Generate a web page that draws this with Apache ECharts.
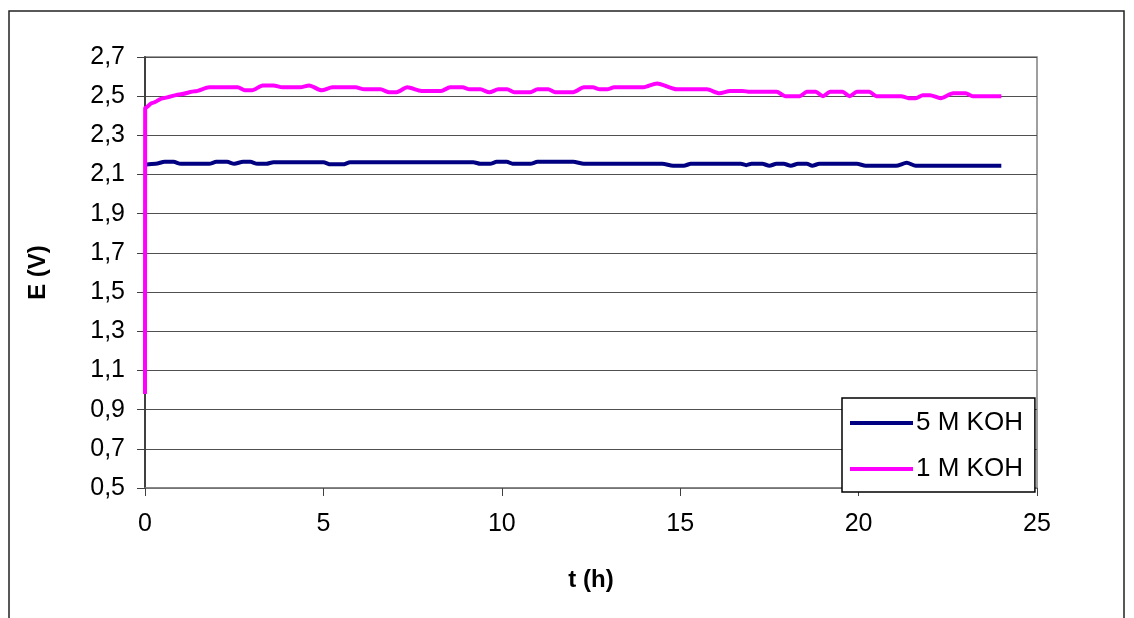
<!DOCTYPE html>
<html>
<head>
<meta charset="utf-8">
<script src="https://cdn.jsdelivr.net/npm/echarts@6/dist/echarts.min.js"></script>
<style>html,body{margin:0;padding:0;background:#fff;}#c{width:1134px;height:618px;}</style>
</head>
<body>
<div id="c"></div>
<script>
// Data
const seriesNames = ['5 M KOH', '1 M KOH'];
const tBlue = [0, 0.3, 0.55, 0.8, 1.0, 1.8, 2.0, 2.3, 2.5, 2.75, 2.95, 3.15, 3.4, 3.6, 5.0, 5.2, 5.55, 5.75, 9.2, 9.4, 9.67, 9.86, 10.14, 10.3, 10.8, 11.0, 12.0, 12.3, 14.5, 14.8, 15.1, 15.3, 16.7, 16.85, 17.0, 17.3, 17.5, 17.7, 17.9, 18.1, 18.3, 18.55, 18.7, 18.9, 19.95, 20.2, 21.05, 21.35, 21.6, 24.0];
const eBlue = [2.15, 2.155, 2.165, 2.165, 2.155, 2.155, 2.165, 2.165, 2.155, 2.165, 2.165, 2.155, 2.155, 2.163, 2.163, 2.152, 2.152, 2.163, 2.163, 2.155, 2.155, 2.165, 2.165, 2.155, 2.155, 2.165, 2.165, 2.155, 2.155, 2.145, 2.145, 2.155, 2.155, 2.148, 2.155, 2.155, 2.145, 2.155, 2.155, 2.145, 2.155, 2.155, 2.145, 2.155, 2.155, 2.145, 2.145, 2.16, 2.145, 2.145];
const tPink = [0, 0.005, 0.2, 0.5, 1.0, 1.4, 1.8, 2.6, 2.8, 3.0, 3.3, 3.6, 3.85, 4.35, 4.6, 4.95, 5.25, 5.9, 6.15, 6.6, 6.85, 7.05, 7.35, 7.75, 8.3, 8.55, 8.9, 9.1, 9.4, 9.65, 9.9, 10.15, 10.35, 10.8, 11.0, 11.3, 11.5, 12.0, 12.3, 12.55, 12.75, 12.95, 13.15, 13.95, 14.35, 14.9, 15.75, 16.1, 16.4, 16.75, 16.95, 17.7, 17.95, 18.35, 18.55, 18.8, 19.0, 19.2, 19.55, 19.75, 19.95, 20.3, 20.5, 21.2, 21.4, 21.6, 21.8, 22.0, 22.3, 22.65, 23.0, 23.2, 24.0];
const ePink = [0.98, 2.44, 2.465, 2.49, 2.51, 2.525, 2.545, 2.545, 2.53, 2.53, 2.555, 2.555, 2.545, 2.545, 2.555, 2.53, 2.545, 2.545, 2.535, 2.535, 2.52, 2.52, 2.545, 2.527, 2.527, 2.545, 2.545, 2.535, 2.535, 2.52, 2.535, 2.535, 2.52, 2.52, 2.535, 2.535, 2.52, 2.52, 2.545, 2.545, 2.535, 2.535, 2.545, 2.545, 2.565, 2.535, 2.535, 2.515, 2.527, 2.527, 2.522, 2.522, 2.50, 2.50, 2.522, 2.522, 2.50, 2.522, 2.522, 2.50, 2.522, 2.522, 2.50, 2.50, 2.49, 2.49, 2.505, 2.505, 2.49, 2.515, 2.515, 2.50, 2.50];

const pair = (t, e) => t.map((v, i) => [v, e[i]]);
const chart = echarts.init(document.getElementById('c'), null, {renderer: 'canvas'});
const font = 'Liberation Sans, Arial, sans-serif';
chart.setOption({
  animation: false,
  backgroundColor: '#fff',
  grid: {left: 145, top: 57, right: 97, bottom: 130, show: true, borderColor: '#808080', borderWidth: 1.5},
  graphic: [{
    type: 'rect', shape: {x: 9, y: 11, width: 1115, height: 640},
    style: {fill: 'none', stroke: '#222', lineWidth: 1.5}, silent: true
  }],
  xAxis: {
    type: 'value', min: 0, max: 25, interval: 5,
    name: 't (h)', nameLocation: 'middle', nameGap: 80,
    nameTextStyle: {fontFamily: font, fontSize: 24, fontWeight: 'bold', color: '#000'},
    axisLine: {show: true, onZero: false, lineStyle: {color: '#808080', width: 1.5}},
    axisTick: {show: true, inside: false, length: 8, lineStyle: {color: '#404040'}},
    axisLabel: {fontFamily: font, fontSize: 25, color: '#000', margin: 24},
    splitLine: {show: false}
  },
  yAxis: {
    type: 'value', min: 0.5, max: 2.7, interval: 0.2,
    name: 'E (V)', nameLocation: 'middle', nameGap: 95, nameRotate: 90,
    nameTextStyle: {fontFamily: font, fontSize: 24, fontWeight: 'bold', color: '#000'},
    axisLine: {show: true, lineStyle: {color: '#404040', width: 2}},
    axisTick: {show: true, inside: false, length: 8, lineStyle: {color: '#404040'}},
    axisLabel: {fontFamily: font, fontSize: 25, color: '#000', margin: 20,
      formatter: v => v.toFixed(1).replace('.', ',')},
    splitLine: {show: true, lineStyle: {color: '#505050', width: 1}}
  },
  legend: {
    orient: 'vertical', left: 842, top: 398,
    padding: [12, 12, 10, 8], itemGap: 20, itemWidth: 63, itemHeight: 4,
    icon: 'rect',
    backgroundColor: '#fff', borderColor: '#000', borderWidth: 1.5,
    textStyle: {fontFamily: font, fontSize: 26, color: '#000', padding: [0, 0, 0, -2]},
    data: seriesNames
  },
  series: [
    {name: seriesNames[0], type: 'line', data: pair(tBlue, eBlue), symbol: 'none', smooth: 0.25, smoothMonotone: 'x',
      lineStyle: {color: '#000080', width: 4}, itemStyle: {color: '#000080'}, z: 3},
    {name: seriesNames[1], type: 'line', data: pair(tPink, ePink), symbol: 'none', smooth: 0.25, smoothMonotone: 'x',
      lineStyle: {color: '#FF00FF', width: 4}, itemStyle: {color: '#FF00FF'}, z: 4}
  ]
});
</script>
</body>
</html>
